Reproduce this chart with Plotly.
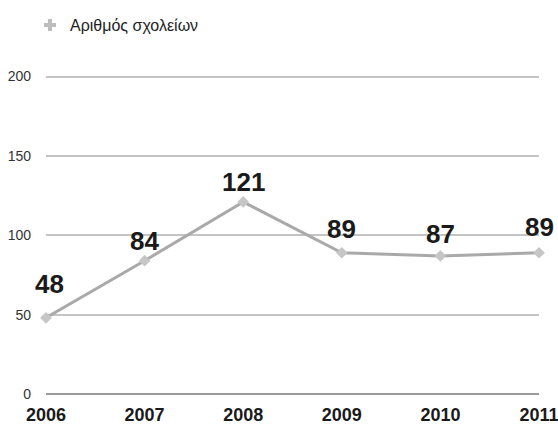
import plotly.graph_objects as go

years = [2006, 2007, 2008, 2009, 2010, 2011]
schools = [48, 84, 121, 89, 87, 89]
series_name = "Αριθμός σχολείων"
y_ticks = [0, 50, 100, 150, 200]

label_shift = [34, 20, 20, 24, 22, 26]
FONT = "Liberation Sans, Arial, sans-serif"
W, H = 558, 425

fig = go.Figure()
fig.add_trace(go.Scatter(
    x=years, y=schools, mode="lines+markers",
    line=dict(color="#a9a9a9", width=3),
    marker=dict(symbol="diamond", size=9, color="#c6c6c6"),
    showlegend=False, cliponaxis=False, hoverinfo="x+y",
))
fig.add_trace(go.Scatter(
    x=[None], y=[None], mode="markers", name=series_name,
    marker=dict(symbol="cross", size=10, color="#bdbdbd"),
))

for xv, yv, sh in zip(years, schools, label_shift):
    fig.add_annotation(
        x=xv, y=yv, text=f"<b>{yv}</b>", showarrow=False,
        yshift=sh, xshift=3 if xv == years[0] else 0,
        font=dict(family=FONT, size=26, color="#1a1a1a"),
    )

fig.update_layout(
    width=W, height=H,
    margin=dict(l=46, r=19, t=75, b=31, autoexpand=False),
    paper_bgcolor="white", plot_bgcolor="white",
    font=dict(family=FONT, color="#222"),
    legend=dict(x=30 / W, y=1 - 25 / H, xanchor="left", yanchor="middle",
                xref="container", yref="container",
                font=dict(size=16, color="#222", family=FONT), itemwidth=30,
                bgcolor="rgba(0,0,0,0)"),
    xaxis=dict(
        range=[2006, 2011], tickvals=years,
        ticktext=[f"<b>{y}</b>" for y in years],
        tickfont=dict(size=18, color="#1a1a1a", family=FONT),
        showgrid=False, zeroline=False, showline=False, automargin=False,
        ticks="", ticklabelstandoff=8, ticklabeloverflow="allow",
    ),
    yaxis=dict(
        range=[0, 201], tickvals=y_ticks, automargin=False,
        tickfont=dict(size=14, color="#333", family=FONT),
        showgrid=True, gridcolor="#c4c4c4", gridwidth=2,
        zeroline=True, zerolinecolor="#9a9a9a", zerolinewidth=2,
        showline=False, ticks="", ticklabelstandoff=14,
    ),
)

fig.write_html("out.html", config={"displayModeBar": False},
               post_script="document.body.style.margin='0';")
